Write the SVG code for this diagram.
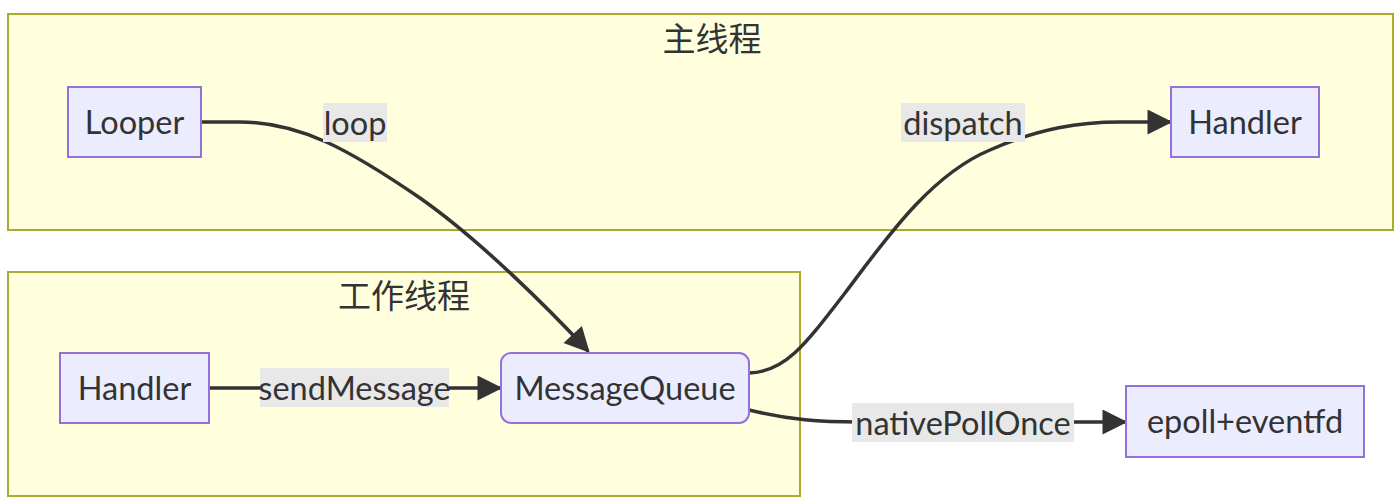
<svg xmlns="http://www.w3.org/2000/svg" width="1395" height="504" viewBox="0 0 1395 504">
<defs>
<style>
.cluster{fill:#ffffde;stroke:#aaaa33;stroke-width:2}
.node rect{fill:#ececff;stroke:#9370db;stroke-width:2}
text{font-family:Lato,"Noto Sans CJK SC",sans-serif;fill:#333;font-size:32.5px;text-anchor:middle}
.title{font-family:"Noto Sans CJK SC",sans-serif;font-size:33px}
.edge{fill:none;stroke:#333;stroke-width:3.5}
.lbl rect{fill:#e8e8e8}
</style>
<marker id="arr" viewBox="0 0 10 10" refX="9" refY="5" markerUnits="userSpaceOnUse" markerWidth="26" markerHeight="25" orient="auto">
<path d="M0,0 L10,5 L0,10 z" fill="#333"/>
</marker>
</defs>
<rect width="1395" height="504" fill="#fff"/>
<g id="cluster-main">
<rect class="cluster" x="8" y="14" width="1385" height="216"/>
<text class="title" x="712" y="51">主线程</text>
</g>
<g id="cluster-worker">
<rect class="cluster" x="8" y="272" width="792" height="224"/>
<text class="title" x="404" y="308">工作线程</text>
</g>
<g id="connectors">
<path class="edge" d="M201,122 L240,122 C300,122 350,150 420,198 C480,240 550,310 588,351" marker-end="url(#arr)"/>
<path class="edge" d="M209,388 L500,388" marker-end="url(#arr)"/>
<path class="edge" d="M749,373 C785,372 805,345 845,293 C885,240 930,175 990,150 C1040,128 1080,122 1120,122 L1170,122" marker-end="url(#arr)"/>
<path class="edge" d="M749,410 C790,420 820,422 860,422 L1125,422" marker-end="url(#arr)"/>
<g class="lbl"><rect x="323" y="103" width="64" height="39"/><text x="355" y="135">loop</text></g>
<g class="lbl"><rect x="260" y="368" width="189" height="39"/><text x="354.5" y="400">sendMessage</text></g>
<g class="lbl"><rect x="901" y="103" width="124" height="39"/><text x="963" y="135">dispatch</text></g>
<g class="lbl"><rect x="852" y="403" width="222" height="39"/><text x="963" y="435">nativePollOnce</text></g>
</g>
<g id="node-looper" class="node"><rect x="68" y="87" width="133" height="70"/><text x="134.5" y="134">Looper</text></g>
<g id="node-handler-main" class="node"><rect x="1171" y="87" width="148" height="70"/><text x="1245" y="134">Handler</text></g>
<g id="node-handler-worker" class="node"><rect x="60" y="353" width="149" height="70"/><text x="134.5" y="400">Handler</text></g>
<g id="node-mq" class="node"><rect x="501" y="353" width="248" height="70" rx="10" ry="10"/><text x="625" y="400">MessageQueue</text></g>
<g id="node-epoll" class="node"><rect x="1126" y="386" width="238" height="71"/><text x="1245" y="433">epoll+eventfd</text></g>
</svg>
